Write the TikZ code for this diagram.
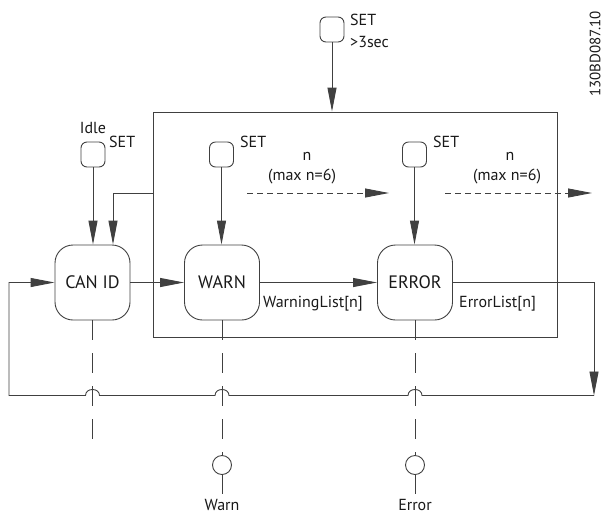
\documentclass[tikz,border=0pt]{standalone}
\usepackage{fontspec}
\setmainfont{PT Sans}
\usetikzlibrary{arrows.meta}
\begin{document}
\begin{tikzpicture}[x=1pt,y=-1pt,
  every node/.style={font=\fontsize{16}{19}\selectfont, inner sep=0pt, text=black!90},
  ln/.style={draw=black!75, line width=0.9pt},
  tip/.style={-{Triangle[length=24pt,width=9pt]}},
  arr/.style={ln, tip},
  statebox/.style={ln, rounded corners=18pt, minimum width=75pt, minimum height=75pt, font=\fontsize{18}{21}\selectfont},
  btn/.style={ln, rounded corners=6pt, minimum width=24pt, minimum height=25pt},
  lamp/.style={ln, circle, minimum size=19pt},
  dsh/.style={ln, dash pattern=on 20pt off 13pt},
  fdsh/.style={ln, dash pattern=on 6pt off 4pt}
]
\useasboundingbox (0,0) rectangle (604,515);

% frame
\node[ln, minimum width=404pt, minimum height=225pt] (frame) at (355,224.5) {};

% state nodes
\node[statebox] (can) at (92.5,282.5) {CAN ID};
\node[statebox] (warn) at (222,282.5) {WARN};
\node[statebox] (err) at (415,282.5) {ERROR};

% buttons
\node[btn] (bt) at (332,29.5) {};
\node[btn] (bi) at (93,154.5) {};
\node[btn] (bw) at (221.5,154.5) {};
\node[btn] (be) at (414.5,154.5) {};

% labels
\node[anchor=west] (lset1) at (350,20) {SET};
\node[anchor=west] (lsec) at (350,42) {>3sec};
\node (lidle) at (93,128) {Idle};
\node[anchor=west] (lset2) at (109,142) {SET};
\node[anchor=west] (lset3) at (240,142) {SET};
\node[anchor=west] (lset4) at (433,142) {SET};
\node (ln1) at (307,156) {n};
\node (lm1) at (302,177) {(max n=6)};
\node (ln2) at (510,156) {n};
\node (lm2) at (507,177) {(max n=6)};
\node[anchor=west] (wl) at (263,304) {WarningList[n]};
\node[anchor=west] (el) at (459,304) {ErrorList[n]};
\node[rotate=90, font=\fontsize{15}{18}\selectfont] (code) at (595,54) {130BD087.10};

% lamps
\node[lamp] (lw) at (222,465) {};
\node[lamp] (le) at (415,465) {};
\node (tw) at (222,505) {Warn};
\node (te) at (415,505) {Error};

% coordinates
\coordinate (fw) at (153,193);
\coordinate (fc) at (113,193);
\coordinate (d1a) at (247,193);
\coordinate (d1b) at (389,193);
\coordinate (d2a) at (445,193);
\coordinate (d2b) at (592,193);
\coordinate (rt) at (594,282.5);
\coordinate (rb) at (594,395.5);
\coordinate (lb) at (9,395.5);
\coordinate (lt) at (9,282.5);
\coordinate (ce) at (92.5,440);
\coordinate (we) at (222,494);
\coordinate (ee) at (415,494);

% arrows
\draw[arr] (bt.south) -- (bt.south |- frame.north);
\draw[arr] (bi.south) -- (bi.south |- can.north);
\draw[arr] (fw) -- (fc) -- (fc |- can.north);
\draw[arr] (bw.south) -- (bw.south |- warn.north);
\draw[arr] (be.south) -- (be.south |- err.north);
\draw[arr] (can.east) -- (warn.west);
\draw[arr] (warn.east) -- (err.west);
\draw[arr] (err.east) -- (rt) -- (rb);
\draw[arr] (rb) -- (422,395.5) .. controls (422,387.5) and (408,387.5) .. (408,395.5)
  -- (229,395.5) .. controls (229,387.5) and (215,387.5) .. (215,395.5)
  -- (99.5,395.5) .. controls (99.5,387.5) and (85.5,387.5) .. (85.5,395.5)
  -- (lb) -- (lt) -- (can.west);
\draw[fdsh, tip] (d1a) -- (d1b);
\draw[fdsh, tip] (d2a) -- (d2b);

% dashed verticals
\draw[dsh] (can.south) -- (ce);
\draw[dsh] (warn.south) -- (lw.north);
\draw[dsh] (lw.south) -- (we);
\draw[dsh] (err.south) -- (le.north);
\draw[dsh] (le.south) -- (ee);
\end{tikzpicture}
\end{document}
